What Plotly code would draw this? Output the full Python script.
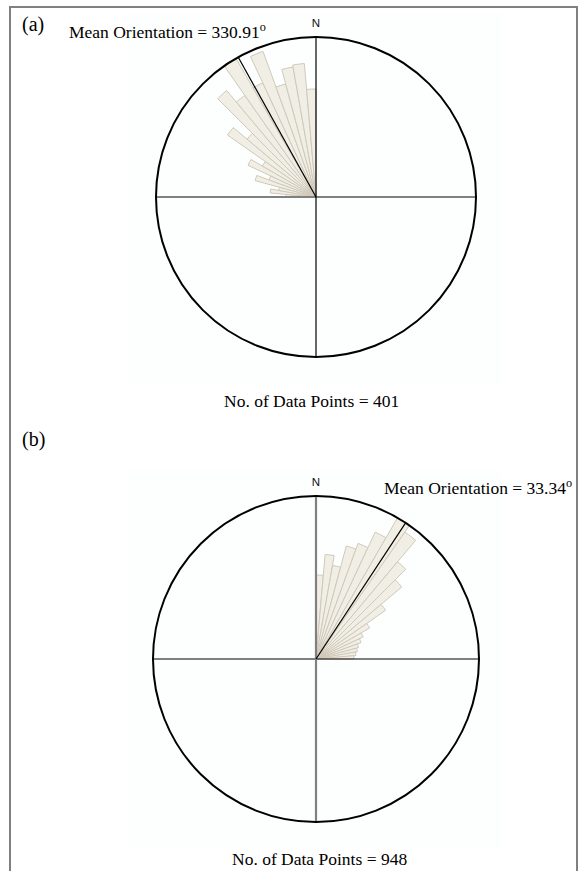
import plotly.graph_objects as go

W, H = 581, 871

# Rose (a): 5-degree direction classes and petal lengths (outer ring = 160)
theta_a = [272.5, 277.5, 282.5, 287.5, 292.5, 297.5, 302.5, 307.5, 312.5,
           317.5, 322.5, 327.5, 332.5, 337.5, 342.5, 347.5, 352.5, 357.5]
petal_a = [30, 46, 38, 63, 50, 75, 62, 108, 90,
           139, 124, 160, 126, 155, 117, 132, 134, 108]
ring_a = 160
mean_a = 330.91
count_a = 401

# Rose (b): 5-degree direction classes and petal lengths (outer ring = 163)
theta_b = [2.5, 7.5, 12.5, 17.5, 22.5, 27.5, 32.5, 37.5, 42.5,
           47.5, 52.5, 57.5, 62.5, 67.5, 72.5, 77.5, 82.5, 87.5]
petal_b = [84, 105, 95, 117, 123, 140, 163, 155, 127,
           112, 85, 62, 52, 48, 44, 42, 40, 38]
ring_b = 163
mean_b = 33.34
count_b = 948

PETAL_FILL = "#F1EEE6"
PETAL_EDGE = "#CFC9B9"
GREY = "#808080"
SERIF = "Liberation Serif"
SANS = "Liberation Sans"


def px(x):
    return x / W


def py(y):
    return 1 - y / H


fig = go.Figure()


def add_rose(subplot, theta, petals, ring, mean, h_style, v_style, h_ext, v_ext):
    fig.add_trace(go.Barpolar(
        theta=theta, r=petals, width=[5] * len(theta),
        marker=dict(color=PETAL_FILL, line=dict(color=PETAL_EDGE, width=1)),
        subplot=subplot, hoverinfo="skip", showlegend=False))
    # E-W cross line
    fig.add_trace(go.Scatterpolar(
        r=[h_ext[0], 0, h_ext[1]], theta=[270, 0, 90], mode="lines",
        line=dict(color=h_style[0], width=h_style[1]), cliponaxis=False,
        subplot=subplot, hoverinfo="skip", showlegend=False))
    # N-S cross line
    fig.add_trace(go.Scatterpolar(
        r=[v_ext[0], 0, v_ext[1]], theta=[0, 0, 180], mode="lines",
        line=dict(color=v_style[0], width=v_style[1]), cliponaxis=False,
        subplot=subplot, hoverinfo="skip", showlegend=False))
    # mean orientation
    fig.add_trace(go.Scatterpolar(
        r=[0, ring * 1.035], theta=[mean, mean], mode="lines",
        line=dict(color="black", width=1.2), cliponaxis=False,
        subplot=subplot, hoverinfo="skip", showlegend=False))


add_rose("polar", theta_a, petal_a, ring_a, mean_a,
         (GREY, 2.2), ("black", 1.2), (166, 167), (164, 165))
add_rose("polar2", theta_b, petal_b, ring_b, mean_b,
         ("black", 1.2), (GREY, 2.2), (169, 167), (171, 168))


def polar_layout(cx, cy, ring):
    return dict(
        domain=dict(x=[px(cx - ring), px(cx + ring)],
                    y=[py(cy + ring), py(cy - ring)]),
        bgcolor="rgba(0,0,0,0)",
        radialaxis=dict(visible=False, range=[0, ring]),
        angularaxis=dict(
            rotation=90, direction="clockwise", showgrid=False,
            showline=True, linecolor="black", linewidth=2,
            ticks="outside", ticklen=4, tickcolor="rgba(0,0,0,0)",
            tickmode="array", tickvals=[0], ticktext=["N"],
            tickfont=dict(family=SANS, size=11.5, color="#111111")),
    )


annotations = [
    dict(text="(a)", x=px(20), y=py(25), xanchor="left", yanchor="middle",
         font=dict(family=SERIF, size=20, color="black")),
    dict(text=f"Mean Orientation = {mean_a:.2f}<sup>o</sup>", x=px(67), y=py(31),
         xanchor="left", yanchor="middle",
         font=dict(family=SERIF, size=17.5, color="black")),
    dict(text=f"No. of Data Points = {count_a}", x=px(311), y=py(401),
         xanchor="center", yanchor="middle",
         font=dict(family=SERIF, size=17.5, color="black")),
    dict(text="(b)", x=px(20), y=py(440), xanchor="left", yanchor="middle",
         font=dict(family=SERIF, size=20, color="black")),
    dict(text=f"Mean Orientation = {mean_b:.2f}<sup>o</sup>", x=px(382), y=py(487),
         xanchor="left", yanchor="middle",
         font=dict(family=SERIF, size=17.5, color="black")),
    dict(text=f"No. of Data Points = {count_b}", x=px(319), y=py(859),
         xanchor="center", yanchor="middle",
         font=dict(family=SERIF, size=17.5, color="black")),
]
for a in annotations:
    a.update(xref="paper", yref="paper", showarrow=False)

shapes = [
    # faint panel backdrops
    dict(type="rect", xref="paper", yref="paper", x0=px(127), x1=px(502),
         y0=py(385), y1=py(12), fillcolor="#FDFEFE", line=dict(width=0),
         layer="below"),
    dict(type="rect", xref="paper", yref="paper", x0=px(127), x1=px(502),
         y0=py(848), y1=py(470), fillcolor="#FDFEFE", line=dict(width=0),
         layer="below"),
    # figure frame
    dict(type="rect", xref="paper", yref="paper", x0=px(10), x1=px(577),
         y0=py(885), y1=py(7), line=dict(color=GREY, width=2),
         fillcolor="rgba(0,0,0,0)"),
]

fig.update_layout(
    width=W, height=H,
    margin=dict(l=0, r=0, t=0, b=0),
    paper_bgcolor="white", plot_bgcolor="white",
    polar=polar_layout(316, 197, ring_a),
    polar2=polar_layout(316, 659, ring_b),
    annotations=annotations,
    shapes=shapes,
    showlegend=False,
)

fig.write_html("out.html")
